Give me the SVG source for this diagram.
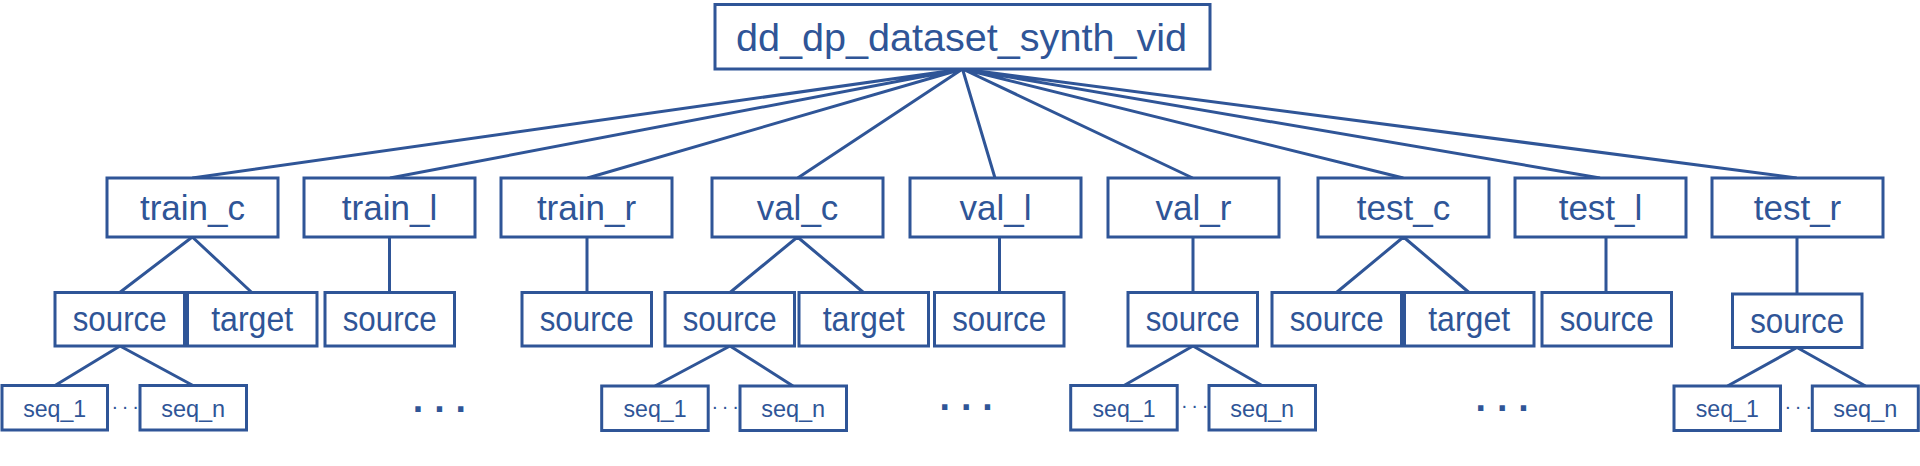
<svg xmlns="http://www.w3.org/2000/svg" width="1920" height="466" viewBox="0 0 1920 466">
<style>
.box{fill:#fff;stroke:#2F5597;stroke-width:3}
.ln{stroke:#2F5597;stroke-width:3;fill:none}
.t{font-family:"Liberation Sans",Arial,sans-serif;fill:#2F5597;text-anchor:middle}
.t0{font-size:39px}
.t1{font-size:35px}
.t2{font-size:35px}
.t3{font-size:24px}
.dots{font-family:"DejaVu Sans",sans-serif;font-weight:bold;font-size:30px;fill:#2F5597;letter-spacing:10px}
.ell{font-family:"Liberation Sans",Arial,sans-serif;font-size:20px;fill:#2F5597;letter-spacing:3.7px}
</style>
<rect width="1920" height="466" fill="#fff"/>
<g id="connectors">
<path class="ln" d="M962.5 69L192.3 178M962.5 69L390 178M962.5 69L587.5 178M962.5 69L797.7 178M962.5 69L995 178M962.5 69L1192.7 178M962.5 69L1403.3 178M962.5 69L1600 178M962.5 69L1796.7 178"/>
<path class="ln" d="M192.3 237L119.7 292.5M192.3 237L251.8 292.5M389.5 237V292.5M587 237V292.5M797.5 237L730 292.5M797.5 237L863.5 292.5M999.5 237V292.5M1193 237V292.5M1403.5 237L1336.5 292.5M1403.5 237L1469 292.5M1606 237V292.5M1797 237V294"/>
<path class="ln" d="M120 346L55 385.5M120 346L193 385.5M730 346L655 386M730 346L793 386M1193 346L1124 385.5M1193 346L1262 385.5M1797 347.5L1727.5 386M1797 347.5L1865.5 386"/>
</g>
<g id="root"><rect class="box" x="715" y="4.5" width="495" height="64.5"/><text class="t t0" x="961.5" y="51" textLength="451" lengthAdjust="spacingAndGlyphs">dd_dp_dataset_synth_vid</text></g>
<g id="train_c"><rect class="box" x="107" y="178" width="171" height="59"/><text class="t t1" x="192.5" y="220">train_c</text></g>
<g id="train_l"><rect class="box" x="304" y="178" width="171" height="59"/><text class="t t1" x="389.5" y="220">train_l</text></g>
<g id="train_r"><rect class="box" x="501" y="178" width="171" height="59"/><text class="t t1" x="586.5" y="220">train_r</text></g>
<g id="val_c"><rect class="box" x="712" y="178" width="171" height="59"/><text class="t t1" x="797.5" y="220">val_c</text></g>
<g id="val_l"><rect class="box" x="910" y="178" width="171" height="59"/><text class="t t1" x="995.5" y="220">val_l</text></g>
<g id="val_r"><rect class="box" x="1108" y="178" width="171" height="59"/><text class="t t1" x="1193.5" y="220">val_r</text></g>
<g id="test_c"><rect class="box" x="1318" y="178" width="171" height="59"/><text class="t t1" x="1403.5" y="220">test_c</text></g>
<g id="test_l"><rect class="box" x="1515" y="178" width="171" height="59"/><text class="t t1" x="1600.5" y="220">test_l</text></g>
<g id="test_r"><rect class="box" x="1712" y="178" width="171" height="59"/><text class="t t1" x="1797.5" y="220">test_r</text></g>
<g id="train_c_source"><rect class="box" x="55" y="292.5" width="129.5" height="53.5"/><text class="t t2" x="119.7" y="331" textLength="94" lengthAdjust="spacingAndGlyphs">source</text></g>
<g id="train_c_target"><rect class="box" x="187.5" y="292.5" width="129.5" height="53.5"/><text class="t t2" x="252.2" y="331" textLength="82" lengthAdjust="spacingAndGlyphs">target</text></g>
<g id="train_l_source"><rect class="box" x="325" y="292.5" width="129.5" height="53.5"/><text class="t t2" x="389.7" y="331" textLength="94" lengthAdjust="spacingAndGlyphs">source</text></g>
<g id="train_r_source"><rect class="box" x="522" y="292.5" width="129.5" height="53.5"/><text class="t t2" x="586.7" y="331" textLength="94" lengthAdjust="spacingAndGlyphs">source</text></g>
<g id="val_c_source"><rect class="box" x="665" y="292.5" width="129.5" height="53.5"/><text class="t t2" x="729.7" y="331" textLength="94" lengthAdjust="spacingAndGlyphs">source</text></g>
<g id="val_c_target"><rect class="box" x="799" y="292.5" width="129.5" height="53.5"/><text class="t t2" x="863.7" y="331" textLength="82" lengthAdjust="spacingAndGlyphs">target</text></g>
<g id="val_l_source"><rect class="box" x="934.5" y="292.5" width="129.5" height="53.5"/><text class="t t2" x="999.2" y="331" textLength="94" lengthAdjust="spacingAndGlyphs">source</text></g>
<g id="val_r_source"><rect class="box" x="1128" y="292.5" width="129.5" height="53.5"/><text class="t t2" x="1192.7" y="331" textLength="94" lengthAdjust="spacingAndGlyphs">source</text></g>
<g id="test_c_source"><rect class="box" x="1272" y="292.5" width="129.5" height="53.5"/><text class="t t2" x="1336.7" y="331" textLength="94" lengthAdjust="spacingAndGlyphs">source</text></g>
<g id="test_c_target"><rect class="box" x="1404.5" y="292.5" width="129.5" height="53.5"/><text class="t t2" x="1469.2" y="331" textLength="82" lengthAdjust="spacingAndGlyphs">target</text></g>
<g id="test_l_source"><rect class="box" x="1542" y="292.5" width="129.5" height="53.5"/><text class="t t2" x="1606.7" y="331" textLength="94" lengthAdjust="spacingAndGlyphs">source</text></g>
<g id="test_r_source"><rect class="box" x="1732.5" y="294" width="129.5" height="53.5"/><text class="t t2" x="1797.2" y="332.5" textLength="94" lengthAdjust="spacingAndGlyphs">source</text></g>
<g id="train_c_seq_1"><rect class="box" x="2" y="385.5" width="105.5" height="44.5"/><text class="t t3" x="54.7" y="416.5" textLength="63" lengthAdjust="spacingAndGlyphs">seq_1</text></g>
<g id="train_c_seq_n"><rect class="box" x="140" y="385.5" width="106.5" height="44.5"/><text class="t t3" x="193.2" y="416.5" textLength="64" lengthAdjust="spacingAndGlyphs">seq_n</text></g>
<g id="val_c_seq_1"><rect class="box" x="601.7" y="386" width="106.5" height="44.5"/><text class="t t3" x="655" y="417" textLength="63" lengthAdjust="spacingAndGlyphs">seq_1</text></g>
<g id="val_c_seq_n"><rect class="box" x="740" y="386" width="106.5" height="44.5"/><text class="t t3" x="793.2" y="417" textLength="64" lengthAdjust="spacingAndGlyphs">seq_n</text></g>
<g id="val_r_seq_1"><rect class="box" x="1070.7" y="385.5" width="106.5" height="44.5"/><text class="t t3" x="1124" y="416.5" textLength="63" lengthAdjust="spacingAndGlyphs">seq_1</text></g>
<g id="val_r_seq_n"><rect class="box" x="1209" y="385.5" width="106.5" height="44.5"/><text class="t t3" x="1262.2" y="416.5" textLength="64" lengthAdjust="spacingAndGlyphs">seq_n</text></g>
<g id="test_r_seq_1"><rect class="box" x="1674" y="386" width="106.5" height="44.5"/><text class="t t3" x="1727.3" y="417" textLength="63" lengthAdjust="spacingAndGlyphs">seq_1</text></g>
<g id="test_r_seq_n"><rect class="box" x="1812.3" y="386" width="106" height="44.5"/><text class="t t3" x="1865.3" y="417" textLength="64" lengthAdjust="spacingAndGlyphs">seq_n</text></g>
<g id="ellipses">
<text class="ell" x="111.5" y="413">···</text>
<text class="ell" x="711.5" y="413">···</text>
<text class="ell" x="1181" y="412">···</text>
<text class="ell" x="1784.5" y="413">···</text>
</g>
<g id="more">
<text class="dots" x="412.3" y="412">...</text>
<text class="dots" x="939" y="410">...</text>
<text class="dots" x="1475" y="411">...</text>
</g>
</svg>
